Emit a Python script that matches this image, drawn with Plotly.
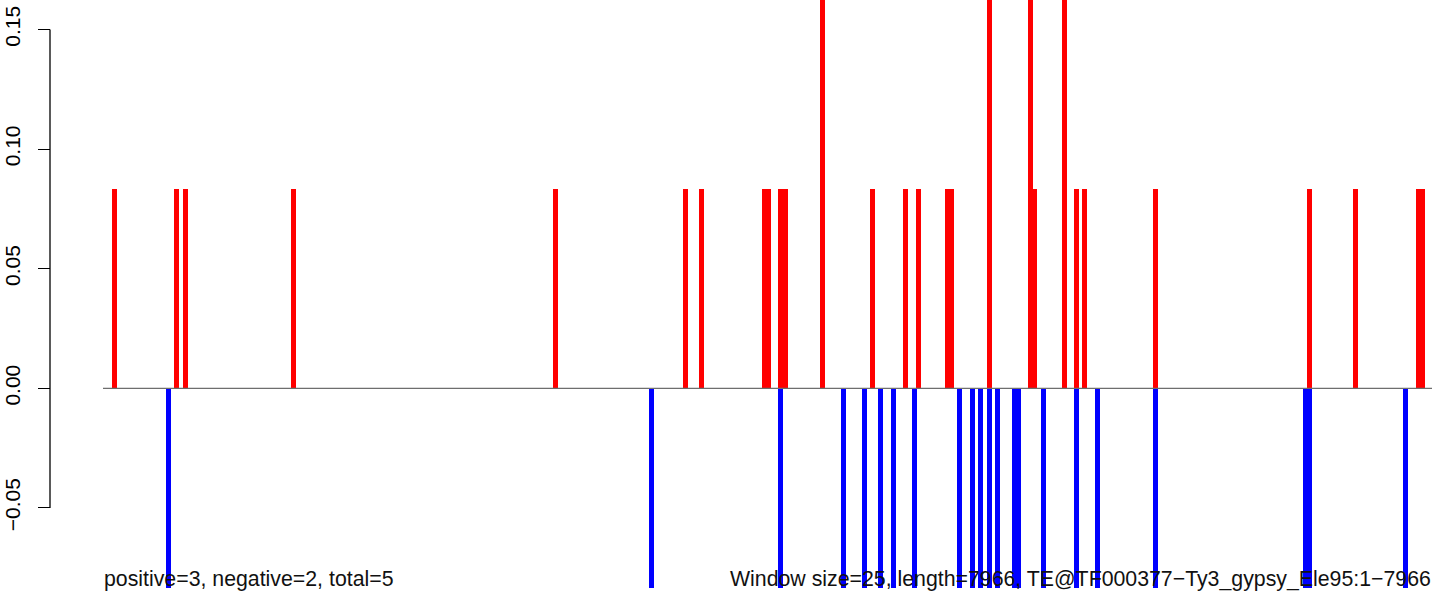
import plotly.graph_objects as go

# window indices (25 bp windows) and values
pos_windows = [2, 17, 19, 45, 108, 139, 143, 158, 159, 162, 163, 172, 184, 192, 195,
               202, 203, 212, 222, 223, 230, 233, 235, 252, 289, 300, 315, 316]
pos_values = [1/12, 1/12, 1/12, 1/12, 1/12, 1/12, 1/12, 1/12, 1/12, 1/12, 1/12, 2/12,
              1/12, 1/12, 1/12, 1/12, 1/12, 2/12, 2/12, 1/12, 2/12, 1/12, 1/12, 1/12,
              1/12, 1/12, 1/12, 1/12]
neg_windows = [15, 131, 162, 177, 182, 186, 189, 194, 205, 208, 210, 212, 214, 218, 219,
               225, 233, 238, 252, 288, 289, 312]
neg_values = [-1/12] * len(neg_windows)

y_tick_vals = [-0.05, 0.0, 0.05, 0.10, 0.15]
y_tick_text = ["\u22120.05", "0.00", "0.05", "0.10", "0.15"]

left_label = "positive=3, negative=2, total=5"
right_label = "Window size=25, length=7966, TE@TF000377\u2212Ty3_gypsy_Ele95:1\u22127966"

FONT = "Liberation Sans, Arial, Helvetica, sans-serif"
X_RANGE = [-0.7, 318.3]
Y_RANGE = [-0.0860, 0.16233]
BAR_W = 1.2

fig = go.Figure()
fig.add_trace(go.Bar(x=pos_windows, y=pos_values, width=BAR_W,
                     marker=dict(color="#ff0000", line=dict(width=0)), showlegend=False))
fig.add_trace(go.Bar(x=neg_windows, y=neg_values, width=BAR_W,
                     marker=dict(color="#0000ff", line=dict(width=0)), showlegend=False))

W, H = 1436, 594
ML, MR = 50, 4
plot_w = W - ML - MR
dom0 = (103 - ML) / plot_w

fig.update_layout(
    width=W, height=H,
    margin=dict(l=ML, r=MR, t=0, b=0, pad=0),
    barmode="overlay",
    bargap=0,
    plot_bgcolor="white", paper_bgcolor="white",
    font=dict(family=FONT, size=21, color="black"),
    xaxis=dict(domain=[dom0, 1], range=X_RANGE, visible=False, fixedrange=True),
    yaxis=dict(range=Y_RANGE, anchor="free", position=0, tickmode="array",
               tickvals=y_tick_vals, ticktext=y_tick_text, tickangle=-90,
               ticks="outside", ticklen=12, tickwidth=1.3, tickcolor="black",
               ticklabelstandoff=10,
               showgrid=False, zeroline=False, showline=False, automargin=False,
               tickfont=dict(family=FONT, size=21, color="black")),
    shapes=[
        dict(type="line", xref="paper", yref="y", x0=0, x1=0, y0=-0.05, y1=0.15,
             line=dict(color="black", width=1.3)),
        dict(type="line", xref="x", yref="y", x0=X_RANGE[0], x1=X_RANGE[1], y0=0, y1=0,
             line=dict(color="#6e6e6e", width=1.3), layer="above"),
    ],
    annotations=[
        dict(text=left_label, xref="x", yref="y", x=X_RANGE[0], y=-0.0797,
             xanchor="left", yanchor="middle", showarrow=False, borderpad=0,
             font=dict(family=FONT, size=21.3, color="#111111")),
        dict(text=right_label, xref="x", yref="y", x=X_RANGE[1], y=-0.0797,
             xanchor="right", yanchor="middle", showarrow=False, borderpad=0,
             font=dict(family=FONT, size=21.3, color="#111111")),
    ],
)

fig.write_html(
    "out.html",
    config={"displayModeBar": False},
    post_script="document.body.style.margin='0';document.body.style.padding='0';"
                "document.body.style.overflow='hidden';",
)
